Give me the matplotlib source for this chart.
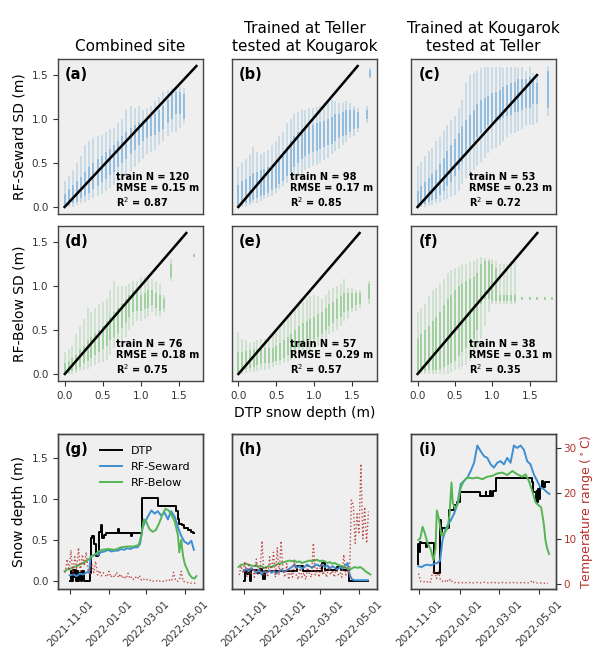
import numpy as np
import pandas as pd
import matplotlib
matplotlib.use('Agg')
import matplotlib.pyplot as plt
import matplotlib.dates as mdates

# ---------------- scatter panels: columns of points (DTP depth vs RF depth) ----------------
# x = DTP depth column, lo/hi = full spread of predictions, clo/chi = dense part
a_x   = [0.00,0.05,0.10,0.15,0.20,0.25,0.30,0.35,0.40,0.45,0.50,0.55,0.60,0.65,0.70,0.75,0.80,0.85,0.90,0.95,1.00,1.05,1.10,1.15,1.20,1.25,1.30,1.35,1.40,1.45]
a_lo  = [0.00,0.00,0.00,0.02,0.04,0.06,0.08,0.10,0.12,0.15,0.18,0.22,0.25,0.28,0.32,0.36,0.40,0.45,0.50,0.55,0.60,0.62,0.65,0.70,0.75,0.80,0.85,0.85,0.90,0.95]
a_hi  = [0.30,0.35,0.42,0.50,0.58,0.70,0.75,0.78,0.80,0.82,0.85,0.88,0.90,0.95,1.00,1.10,1.15,1.12,1.15,1.10,1.12,1.15,1.20,1.25,1.30,1.33,1.35,1.35,1.36,1.35]
a_clo = [0.00,0.02,0.04,0.06,0.10,0.13,0.16,0.20,0.24,0.28,0.32,0.36,0.40,0.45,0.50,0.55,0.60,0.65,0.70,0.75,0.78,0.80,0.82,0.85,0.88,0.95,1.00,1.05,1.05,1.00]
a_chi = [0.15,0.20,0.25,0.30,0.34,0.40,0.45,0.50,0.55,0.58,0.62,0.66,0.70,0.75,0.80,0.85,0.90,0.93,0.96,0.98,1.00,1.02,1.05,1.10,1.15,1.22,1.28,1.30,1.30,1.28]

b_x   = [0.00,0.05,0.10,0.15,0.20,0.25,0.30,0.35,0.40,0.45,0.50,0.55,0.60,0.65,0.70,0.75,0.80,0.85,0.90,0.95,1.00,1.05,1.10,1.15,1.20,1.25,1.30,1.35,1.40,1.45,1.50,1.55,1.60,1.72,1.77]
b_lo  = [0.00,0.00,0.00,0.02,0.04,0.05,0.07,0.09,0.11,0.13,0.16,0.20,0.24,0.27,0.30,0.33,0.36,0.39,0.42,0.44,0.46,0.48,0.50,0.53,0.56,0.60,0.63,0.66,0.70,0.74,0.78,0.80,0.85,0.95,1.45]
b_hi  = [0.45,0.50,0.55,0.60,0.68,0.62,0.60,0.62,0.65,0.70,0.75,0.80,0.85,0.95,1.00,1.05,1.08,1.10,1.10,1.12,1.12,1.14,1.15,1.18,1.20,1.22,1.20,1.18,1.18,1.20,1.18,1.15,1.12,1.15,1.58]
b_clo = [0.00,0.02,0.04,0.06,0.08,0.10,0.12,0.14,0.16,0.19,0.22,0.26,0.30,0.35,0.40,0.45,0.50,0.55,0.58,0.60,0.62,0.64,0.66,0.68,0.70,0.72,0.75,0.78,0.80,0.82,0.85,0.88,0.90,1.00,1.48]
b_chi = [0.25,0.30,0.32,0.35,0.38,0.40,0.42,0.43,0.45,0.47,0.50,0.55,0.60,0.68,0.75,0.80,0.85,0.88,0.90,0.92,0.93,0.95,0.97,0.98,1.00,1.02,1.05,1.06,1.08,1.10,1.10,1.10,1.08,1.10,1.55]

c_x   = [0.00,0.05,0.10,0.15,0.20,0.25,0.30,0.35,0.40,0.45,0.50,0.55,0.60,0.65,0.70,0.75,0.80,0.85,0.90,0.95,1.00,1.05,1.10,1.15,1.20,1.25,1.30,1.35,1.40,1.45,1.50,1.55,1.60,1.75]
c_lo  = [0.00,0.00,0.00,0.02,0.03,0.05,0.06,0.08,0.10,0.12,0.15,0.20,0.28,0.35,0.40,0.45,0.50,0.55,0.60,0.65,0.70,0.72,0.75,0.80,0.85,0.88,0.90,0.92,0.95,0.98,1.00,1.00,1.02,1.10]
c_hi  = [0.50,0.55,0.62,0.68,0.72,0.80,0.85,0.92,1.00,1.05,1.10,1.20,1.30,1.50,1.60,1.62,1.65,1.68,1.70,1.70,1.70,1.70,1.70,1.68,1.70,1.70,1.70,1.68,1.70,1.65,1.70,1.62,1.60,1.71]
c_clo = [0.00,0.02,0.04,0.06,0.08,0.10,0.14,0.20,0.25,0.30,0.38,0.45,0.55,0.62,0.70,0.78,0.85,0.90,0.95,1.00,1.02,1.05,1.05,1.08,1.10,1.12,1.15,1.15,1.18,1.20,1.20,1.25,1.25,1.20]
c_chi = [0.20,0.25,0.30,0.35,0.40,0.45,0.52,0.60,0.68,0.75,0.82,0.90,0.98,1.05,1.12,1.18,1.25,1.30,1.32,1.35,1.38,1.40,1.42,1.45,1.48,1.50,1.52,1.55,1.55,1.55,1.58,1.55,1.50,1.65]

d_x   = [0.00,0.05,0.10,0.15,0.20,0.25,0.30,0.35,0.40,0.45,0.50,0.55,0.60,0.65,0.70,0.75,0.80,0.85,0.90,0.95,1.00,1.05,1.10,1.15,1.20,1.25,1.30,1.40,1.70]
d_lo  = [0.00,0.00,0.00,0.01,0.03,0.05,0.06,0.08,0.10,0.12,0.14,0.16,0.22,0.30,0.32,0.35,0.42,0.50,0.55,0.60,0.60,0.62,0.65,0.70,0.66,0.65,0.70,1.05,1.33]
d_hi  = [0.25,0.28,0.32,0.45,0.55,0.62,0.75,0.70,0.75,0.80,0.82,0.85,0.95,1.05,1.00,1.00,1.00,1.02,1.05,1.05,1.10,1.10,1.12,1.08,1.05,1.02,0.90,1.30,1.36]
d_clo = [0.00,0.01,0.03,0.05,0.08,0.12,0.15,0.18,0.22,0.25,0.28,0.32,0.38,0.42,0.46,0.52,0.58,0.65,0.70,0.72,0.72,0.74,0.75,0.78,0.75,0.72,0.74,1.10,1.33]
d_chi = [0.12,0.15,0.18,0.22,0.28,0.32,0.38,0.42,0.46,0.50,0.55,0.60,0.65,0.70,0.75,0.80,0.85,0.90,0.95,0.95,0.90,0.92,0.95,0.95,0.92,0.90,0.85,1.25,1.36]

e_x   = [0.00,0.05,0.10,0.15,0.20,0.25,0.30,0.35,0.40,0.45,0.50,0.55,0.60,0.65,0.70,0.75,0.80,0.85,0.90,0.95,1.00,1.05,1.10,1.15,1.20,1.25,1.30,1.35,1.40,1.45,1.50,1.55,1.60,1.72]
e_lo  = [0.00,0.00,0.01,0.02,0.02,0.03,0.04,0.05,0.06,0.08,0.10,0.10,0.12,0.14,0.16,0.18,0.20,0.22,0.24,0.26,0.30,0.32,0.35,0.40,0.45,0.48,0.50,0.55,0.60,0.62,0.70,0.72,0.75,0.80]
e_hi  = [0.48,0.40,0.38,0.35,0.36,0.38,0.40,0.40,0.42,0.45,0.50,0.55,0.58,0.65,0.70,0.75,0.80,0.82,0.85,0.88,0.90,0.88,0.85,0.90,0.95,0.98,1.00,1.02,1.08,0.98,0.98,0.95,0.95,1.06]
e_clo = [0.02,0.04,0.06,0.07,0.08,0.10,0.11,0.12,0.13,0.14,0.15,0.16,0.18,0.22,0.25,0.28,0.30,0.33,0.36,0.38,0.40,0.42,0.45,0.50,0.55,0.58,0.62,0.65,0.70,0.72,0.75,0.78,0.80,0.85]
e_chi = [0.25,0.25,0.26,0.27,0.28,0.28,0.29,0.30,0.30,0.30,0.32,0.35,0.38,0.42,0.45,0.50,0.55,0.58,0.60,0.62,0.65,0.68,0.70,0.75,0.80,0.82,0.85,0.88,0.92,0.92,0.92,0.92,0.92,1.02]

f_x   = [0.00,0.05,0.10,0.15,0.20,0.25,0.30,0.35,0.40,0.45,0.50,0.55,0.60,0.65,0.70,0.75,0.80,0.85,0.90,0.95,1.00,1.05,1.10,1.15,1.20,1.25,1.30,1.40,1.50,1.60,1.70,1.80]
f_lo  = [0.00,0.00,0.00,0.00,0.00,0.00,0.00,0.00,0.00,0.02,0.04,0.06,0.08,0.10,0.15,0.20,0.28,0.40,0.55,0.70,0.80,0.80,0.80,0.80,0.80,0.80,0.80,0.84,0.84,0.84,0.84,0.84]
f_hi  = [0.70,0.75,0.80,0.88,0.95,0.98,1.02,1.08,1.15,1.18,1.20,1.22,1.25,1.25,1.27,1.28,1.30,1.33,1.32,1.30,1.30,1.28,1.25,1.25,1.25,1.28,1.30,0.87,0.87,0.87,0.87,0.87]
f_clo = [0.02,0.02,0.03,0.04,0.05,0.05,0.06,0.08,0.10,0.12,0.15,0.20,0.25,0.30,0.35,0.40,0.50,0.80,0.85,0.85,0.83,0.83,0.83,0.83,0.83,0.83,0.83,0.84,0.84,0.84,0.84,0.84]
f_chi = [0.40,0.45,0.50,0.55,0.60,0.65,0.70,0.78,0.85,0.90,0.95,1.00,1.02,1.05,1.08,1.10,1.15,1.25,1.28,1.28,1.25,1.20,0.90,0.90,0.90,0.90,0.90,0.87,0.87,0.87,0.87,0.87]

# train N, RMSE, R2 for each scatter panel
stats = {'a': (120, 0.15, 0.87), 'b': (98, 0.17, 0.85), 'c': (53, 0.23, 0.72),
         'd': (76, 0.18, 0.75), 'e': (57, 0.29, 0.57), 'f': (38, 0.31, 0.35)}

col_titles = ['Combined site', 'Trained at Teller\ntested at Kougarok', 'Trained at Kougarok\ntested at Teller']

# ---------------- time series (days after 2021-11-01) ----------------
# (g) combined site
g_dtp_day = [0, 1, 3, 4, 6, 7, 9, 10, 12, 14, 17, 19, 22, 25, 31, 33, 35, 37, 40, 43, 46, 48, 50, 53, 57, 75, 77, 96, 97, 113, 138, 167, 170, 172, 176, 180, 185, 190, 193, 195]
g_dtp     = [0.0, 0.12, 0.0, 0.13, 0.05, 0.14, 0.0, 0.12, 0.0, 0.1, 0.0, 0.12, 0.0, 0.0, 0.1, 0.52, 0.55, 0.45, 0.3, 0.32, 0.6, 0.68, 0.52, 0.56, 0.58, 0.63, 0.58, 0.55, 0.58, 1.01, 0.91, 0.85, 0.75, 0.7, 0.68, 0.65, 0.62, 0.6, 0.58, 0.58]
g_sew_day = [-1, 5, 10, 15, 20, 25, 30, 32, 36, 40, 44, 48, 54, 59, 65, 70, 75, 80, 85, 90, 95, 100, 106, 110, 114, 118, 122, 128, 133, 138, 143, 149, 154, 159, 165, 170, 175, 180, 186, 191, 195]
g_sew     = [0.07, 0.08, 0.06, 0.09, 0.08, 0.1, 0.12, 0.3, 0.31, 0.33, 0.32, 0.35, 0.36, 0.38, 0.36, 0.37, 0.37, 0.39, 0.38, 0.4, 0.39, 0.41, 0.41, 0.45, 0.65, 0.72, 0.78, 0.86, 0.82, 0.85, 0.8, 0.83, 0.75, 0.85, 0.78, 0.65, 0.55, 0.48, 0.45, 0.49, 0.38]
g_bel_day = [-9, -5, 0, 5, 10, 15, 20, 25, 30, 35, 40, 45, 50, 60, 70, 80, 90, 100, 108, 112, 116, 120, 125, 130, 135, 140, 145, 150, 155, 160, 165, 170, 172, 175, 178, 181, 184, 188, 192, 196, 199]
g_bel     = [0.12, 0.14, 0.15, 0.17, 0.18, 0.2, 0.22, 0.24, 0.27, 0.3, 0.33, 0.36, 0.38, 0.39, 0.38, 0.41, 0.42, 0.42, 0.44, 0.55, 0.75, 0.72, 0.63, 0.6, 0.62, 0.7, 0.8, 0.88, 0.86, 0.8, 0.72, 0.55, 0.35, 0.5, 0.3, 0.2, 0.15, 0.08, 0.04, 0.03, 0.06]
g_temp_start = '2021-10-24'   # every 3 days
g_temp = [2.5, 5.5, 3.0, 7.5, 2.0, 6.0, 3.5, 8.0, 2.5, 6.5, 4.0, 7.0, 3.0, 2.0, 4.5, 2.5, 5.0, 2.0, 3.0, 1.8,
          2.5, 2.0, 1.6, 2.8, 1.5, 2.0, 1.5, 2.6, 1.4, 2.2, 1.3, 1.8, 1.2, 2.4, 1.2, 1.6, 1.0, 1.5, 1.1, 1.9,
          0.9, 1.2, 0.8, 1.0, 0.7, 0.9, 0.6, 0.8, 0.7, 0.9, 0.6, 0.7, 0.5, 0.8, 0.6, 0.9, 0.7, 2.6, 0.8, 0.6,
          0.9, 2.8, 0.6, 0.5, 0.3, 0.4, 0.2, 0.3, 0.2, 0.1]

# (h) trained at Teller, tested at Kougarok
h_dtp_day = [-1, 1, 5, 6, 9, 10, 20, 24, 28, 30, 33, 83, 92, 123, 127, 147, 152, 166, 195]
h_dtp     = [0.0, 0.13, 0.08, 0.14, 0.0, 0.13, 0.1, 0.15, 0.12, 0.02, 0.12, 0.18, 0.12, 0.22, 0.13, 0.17, 0.13, 0.0, 0.0]
h_sew_day = [-1, 3, 7, 11, 15, 19, 23, 27, 31, 35, 39, 43, 47, 51, 55, 59, 63, 67, 71, 75, 79, 83, 87, 91, 95, 99, 103, 107, 111, 115, 119, 123, 127, 131, 135, 139, 143, 147, 151, 155, 159, 163, 166, 170, 175, 180, 185, 190, 195]
h_sew     = [0.12, 0.15, 0.12, 0.16, 0.13, 0.1, 0.14, 0.08, 0.12, 0.1, 0.13, 0.1, 0.12, 0.09, 0.12, 0.14, 0.11, 0.13, 0.15, 0.17, 0.2, 0.16, 0.18, 0.15, 0.17, 0.2, 0.18, 0.16, 0.19, 0.2, 0.18, 0.2, 0.17, 0.19, 0.15, 0.18, 0.16, 0.14, 0.17, 0.15, 0.18, 0.22, 0.08, 0.02, 0.01, 0.01, 0.01, 0.01, 0.01]
h_bel_day = [-9, -5, -1, 3, 7, 11, 15, 19, 23, 27, 31, 35, 39, 43, 47, 51, 55, 59, 63, 67, 71, 75, 79, 83, 87, 91, 95, 99, 103, 107, 111, 115, 119, 123, 127, 131, 135, 139, 143, 147, 151, 155, 159, 163, 167, 171, 175, 179, 183, 187, 191, 195, 199]
h_bel     = [0.17, 0.2, 0.2, 0.21, 0.2, 0.19, 0.18, 0.2, 0.17, 0.18, 0.16, 0.17, 0.18, 0.17, 0.19, 0.2, 0.21, 0.22, 0.23, 0.24, 0.25, 0.24, 0.25, 0.23, 0.24, 0.22, 0.23, 0.24, 0.25, 0.24, 0.25, 0.26, 0.24, 0.25, 0.24, 0.22, 0.23, 0.21, 0.22, 0.2, 0.19, 0.18, 0.17, 0.15, 0.14, 0.16, 0.17, 0.16, 0.17, 0.15, 0.12, 0.1, 0.08]
h_temp_start = '2021-10-24'
h_temp = [2.0, 4.0, 2.5, 5.0, 1.5, 4.5, 2.0, 3.5, 1.5, 5.5, 2.0, 3.0, 9.5, 2.0, 4.0, 1.5, 6.0, 2.5, 7.0, 1.5,
          8.0, 2.0, 9.5, 3.0, 1.5, 4.5, 1.0, 3.0, 1.5, 5.0, 2.0, 1.0, 3.5, 1.5, 2.5, 1.0, 4.0, 2.0, 1.5, 9.0,
          2.0, 3.5, 1.5, 4.5, 2.0, 3.0, 1.5, 4.0, 2.0, 3.0, 1.5, 3.5, 2.0, 2.5, 1.5, 6.5, 2.0, 3.0, 1.5, 18.5,
          17.5, 9.0, 15.5, 11.0, 26.5, 10.0, 17.0, 9.0, 16.0]

# (i) trained at Kougarok, tested at Teller
i_dtp_day = [-2.5, -1.5, 0, 1, 2.5, 10, 11, 22.5, 31.5, 33, 35, 45, 52, 57, 61, 92, 100, 101, 107, 108, 111.5, 115, 170, 172, 176, 177, 178, 179, 180, 182, 185, 187, 190, 196]
i_dtp     = [0.21, 0.45, 0.35, 0.47, 0.46, 0.42, 0.46, 0.1, 0.74, 0.6, 0.65, 0.86, 0.92, 0.96, 1.08, 1.04, 1.08, 1.04, 1.09, 1.04, 1.1, 1.26, 1.2, 1.08, 0.98, 1.1, 0.96, 1.12, 1.0, 1.14, 1.22, 1.15, 1.2, 1.2]
i_sew_day = [-1, 3.5, 7.5, 12.5, 17.5, 22.5, 27.5, 31.5, 35, 40, 47.5, 52.5, 57.5, 62.5, 67.5, 72.5, 77.5, 82.5, 87.5, 92.5, 97.5, 102.5, 107.5, 112.5, 117.5, 122.5, 127.5, 132.5, 137.5, 142.5, 147.5, 152.5, 157.5, 162.5, 167.5, 172.5, 177.5, 182.5, 187.5, 192.5, 196]
i_sew     = [0.18, 0.17, 0.19, 0.2, 0.19, 0.21, 0.22, 0.25, 0.5, 0.64, 0.74, 0.82, 0.94, 1.18, 1.22, 1.26, 1.34, 1.44, 1.65, 1.58, 1.52, 1.5, 1.42, 1.38, 1.44, 1.46, 1.42, 1.5, 1.44, 1.65, 1.62, 1.65, 1.6, 1.46, 1.42, 1.3, 1.22, 1.14, 1.12, 1.08, 1.06]
i_bel_day = [-1.5, 1.5, 5, 8.5, 12.5, 17.5, 21.5, 24.5, 26.5, 30, 33.5, 37.5, 42.5, 45.5, 48.5, 50.5, 54, 58.5, 62.5, 67.5, 72.5, 80, 87.5, 95, 102.5, 110, 117.5, 125, 132.5, 140, 147.5, 155, 160, 165, 170, 175, 180, 183.5, 187.5, 190, 192.5, 195.5]
i_bel     = [0.5, 0.52, 0.66, 0.58, 0.46, 0.38, 0.25, 0.4, 0.86, 0.74, 0.55, 0.58, 0.64, 0.8, 1.2, 0.95, 0.88, 0.95, 1.14, 1.22, 1.26, 1.25, 1.26, 1.24, 1.27, 1.28, 1.31, 1.32, 1.29, 1.34, 1.3, 1.27, 1.3, 1.22, 1.1, 0.96, 0.92, 0.9, 0.7, 0.5, 0.4, 0.33]
i_temp_start = '2021-10-31'
i_temp = [2.3, 0.6, 0.4, 0.5, 0.3, 0.7, 0.4, 2.5, 3.0, 1.2, 2.8, 0.8, 0.6, 0.4, 1.0, 0.5, 1.1, 0.4, 0.3, 0.4,
          0.3, 0.35, 0.3, 0.25, 0.3, 0.35, 0.3, 0.25, 0.3, 0.35, 0.3, 0.25, 0.3, 0.4, 0.3, 0.25, 0.3, 0.35, 0.3, 0.3,
          0.25, 0.3, 0.35, 0.3, 0.25, 0.3, 0.3, 0.35, 0.3, 0.25, 0.3, 0.3, 0.25, 0.3, 0.3, 0.25, 0.3, 0.8, 0.3, 0.25,
          0.2, 0.25, 0.2, 0.15, 0.2, 0.15]

# ---------------- style ----------------
bg = '#efefef'
blue = '#3d8fd1'
green = '#55b555'
red = '#b5312c'
spine_c = '#444444'
base = pd.Timestamp('2021-11-01')

plt.rcParams['font.family'] = 'DejaVu Sans'
plt.rcParams['xtick.labelsize'] = 7.5
plt.rcParams['ytick.labelsize'] = 7.5
plt.rcParams['xtick.color'] = '#333333'
plt.rcParams['ytick.color'] = '#333333'

fig = plt.figure(figsize=(5.95, 6.56), dpi=100)

cols_px = [58, 232, 411]
rows_px = [(59, 214), (226, 381), (434, 589)]


def pos(c, r):
    top, bot = rows_px[r]
    return [cols_px[c] / 595, 1 - bot / 656, 145 / 595, (bot - top) / 656]


def style_spines(ax):
    for s in ax.spines.values():
        s.set_color(spine_c)
        s.set_linewidth(1.0)


def to_dates(days):
    return base + pd.to_timedelta(days, unit='D')


def scatter_panel(ax, x, lo, hi, clo, chi, color, key, xlim, ylim):
    ax.set_facecolor(bg)
    ax.vlines(x, lo, hi, color=color, lw=1.2, alpha=0.25)
    ax.vlines(x, clo, chi, color=color, lw=1.2, alpha=0.45)
    ax.plot([0, 1.6], [0, 1.6], color='k', lw=1.8)
    ax.set_xlim(xlim)
    ax.set_ylim(ylim)
    ax.text(0.05, 0.95, '(%s)' % key, transform=ax.transAxes, fontsize=10.5,
            fontweight='bold', va='top', ha='left')
    n, rmse, r2 = stats[key]
    ax.text(0.40, 0.035, 'train N = %d\nRMSE = %.2f m\nR$^2$ = %.2f' % (n, rmse, r2),
            transform=ax.transAxes, fontsize=7, fontweight='bold', va='bottom', ha='left',
            linespacing=1.15)
    style_spines(ax)


scat = [
    ('a', a_x, a_lo, a_hi, a_clo, a_chi, blue, (-0.08, 1.68), (-0.08, 1.68)),
    ('b', b_x, b_lo, b_hi, b_clo, b_chi, blue, (-0.085, 1.86), (-0.08, 1.68)),
    ('c', c_x, c_lo, c_hi, c_clo, c_chi, blue, (-0.088, 1.855), (-0.085, 1.795)),
    ('d', d_x, d_lo, d_hi, d_clo, d_chi, green, (-0.09, 1.82), (-0.08, 1.68)),
    ('e', e_x, e_lo, e_hi, e_clo, e_chi, green, (-0.085, 1.83), (-0.08, 1.68)),
    ('f', f_x, f_lo, f_hi, f_clo, f_chi, green, (-0.088, 1.85), (-0.08, 1.68)),
]

for k, (key, x, lo, hi, clo, chi, color, xl, yl) in enumerate(scat):
    r, c = divmod(k, 3)
    ax = fig.add_axes(pos(c, r))
    scatter_panel(ax, x, lo, hi, clo, chi, color, key, xl, yl)
    ax.set_xticks([0, 0.5, 1.0, 1.5])
    ax.set_yticks([0, 0.5, 1.0, 1.5])
    if r == 0:
        ax.tick_params(bottom=False, labelbottom=False)
        ax.set_title(col_titles[c], fontsize=11)
    if c > 0:
        ax.tick_params(left=False, labelleft=False)
    if c == 0:
        ax.set_ylabel('RF-Seward SD (m)' if r == 0 else 'RF-Below SD (m)', fontsize=10)
    if r == 1 and c == 1:
        ax.set_xlabel('DTP snow depth (m)', fontsize=10)

# ---------------- time series row ----------------
ts = [
    ('g', g_dtp_day, g_dtp, g_sew_day, g_sew, g_bel_day, g_bel, g_temp_start, g_temp),
    ('h', h_dtp_day, h_dtp, h_sew_day, h_sew, h_bel_day, h_bel, h_temp_start, h_temp),
    ('i', i_dtp_day, i_dtp, i_sew_day, i_sew, i_bel_day, i_bel, i_temp_start, i_temp),
]

for c, (key, dd, dv, sd, sv, bd, bv, tstart, temp) in enumerate(ts):
    ax = fig.add_axes(pos(c, 2))
    ax.set_facecolor(bg)
    ax.step(to_dates(dd), dv, where='post', color='k', lw=1.4, label='DTP')
    ax.plot(to_dates(sd), sv, color=blue, lw=1.4, label='RF-Seward')
    ax.plot(to_dates(bd), bv, color=green, lw=1.4, label='RF-Below')
    tx = ax.twinx()
    tx.plot(pd.date_range(tstart, periods=len(temp), freq='3D'), temp, ls=':', color=red,
            lw=1.0, alpha=0.85)
    ax.set_ylim(-0.097, 1.79)
    tx.set_ylim(-1.1, 33.1)
    ax.set_yticks([0, 0.5, 1.0, 1.5])
    tx.set_yticks([0, 10, 20, 30])
    ax.xaxis.set_major_locator(mdates.MonthLocator(bymonth=[1, 3, 5, 11]))
    ax.xaxis.set_major_formatter(mdates.DateFormatter('%Y-%m-%d'))
    for lab in ax.get_xticklabels():
        lab.set_rotation(45)
    ax.text(0.05, 0.95, '(%s)' % key, transform=ax.transAxes, fontsize=10.5,
            fontweight='bold', va='top', ha='left')
    style_spines(ax)
    style_spines(tx)
    if c == 0:
        ax.set_ylabel('Snow depth (m)', fontsize=10)
        ax.legend(loc='upper left', bbox_to_anchor=(0.22, 0.99), frameon=False, fontsize=8,
                  handlelength=2.0, labelspacing=0.55)
    else:
        ax.tick_params(left=False, labelleft=False)
    if c < 2:
        tx.tick_params(right=False, labelright=False)
    else:
        tx.tick_params(labelcolor=red, pad=2)
        tx.set_ylabel('Temperature range ($^\\circ$C)', color=red, fontsize=9, labelpad=1)

fig.savefig('out.png', dpi=100)
